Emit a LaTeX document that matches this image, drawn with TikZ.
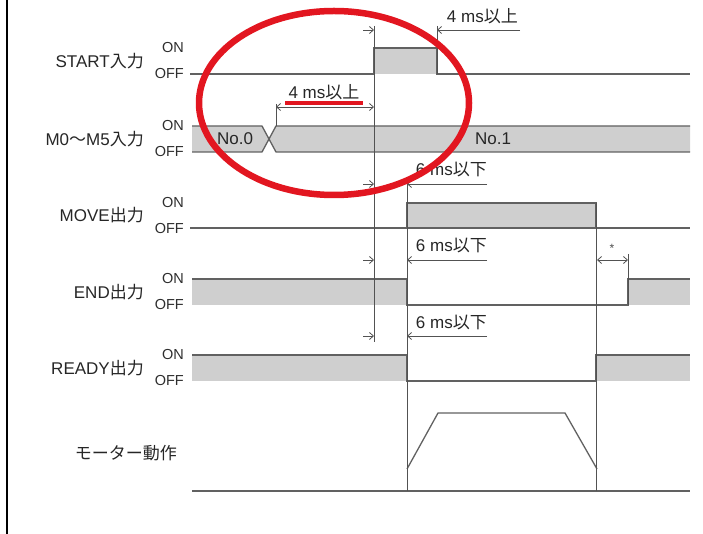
\documentclass[tikz,border=0pt]{standalone}
\usepackage{fontspec}
\setmainfont{Liberation Sans}
\newfontfamily\jp{Noto Sans CJK JP}
\usetikzlibrary{arrows.meta}
\definecolor{wavefill}{RGB}{207,207,207}
\definecolor{circred}{RGB}{226,22,32}
\tikzset{
  sig/.style={draw=black!62, line width=1.3pt},
  band/.style={fill=wavefill},
  guide/.style={draw=black!68, line width=0.9pt},
  dim/.style={draw=black!68, line width=0.8pt, -{Straight Barb[length=4pt,width=7pt]}},
  dimboth/.style={draw=black!68, line width=0.8pt, {Straight Barb[length=4pt,width=7pt]}-{Straight Barb[length=4pt,width=7pt]}},
  siglabel/.style={anchor=east, inner sep=0pt, text=black!85, font=\fontsize{17}{17}\selectfont},
  lvl/.style={anchor=east, inner sep=0pt, text=black!82, font=\fontsize{14.5}{14.5}\selectfont},
  note/.style={anchor=base east, inner sep=0pt, text=black!85, font=\fontsize{17}{17}\selectfont},
  redmark/.style={draw=circred, line width=6.5pt}
}

\begin{document}
\begin{tikzpicture}[x=1pt,y=-1pt]
  \useasboundingbox (0,0) rectangle (703,534);
  \draw[line width=2pt] (7,0) -- (7,534);
  % grey areas
  \fill[band] (374,48) rectangle (437,74);
  \fill[band] (192,126) -- (262,126) -- (269,139) -- (262,152) -- (192,152) -- cycle;
  \fill[band] (276,126) -- (690,126) -- (690,152) -- (276,152) -- (269,139) -- cycle;
  \fill[band] (407,203) rectangle (596,228);
  \fill[band] (192,279) rectangle (407,305);
  \fill[band] (628,279) rectangle (690,305);
  \fill[band] (192,355) rectangle (407,381);
  \fill[band] (596,355) rectangle (690,381);
  % signals
  \draw[sig] (190,74) -- (374,74) -- (374,48) -- (437,48) -- (437,74) -- (690,74);
  \draw[sig] (192,126) -- (262,126) -- (276,152) -- (690,152);
  \draw[sig] (192,152) -- (262,152) -- (276,126) -- (690,126);
  \draw[sig] (190,228) -- (690,228);
  \draw[sig] (407,228) -- (407,203) -- (596,203) -- (596,228);
  \draw[sig] (192,279) -- (407,279) -- (407,305) -- (628,305) -- (628,279) -- (690,279);
  \draw[sig] (192,355) -- (407,355) -- (407,381) -- (596,381) -- (596,355) -- (690,355);
  \draw[sig] (192,491) -- (690,491);
  \draw[sig] (407,469) -- (438,413) -- (565,413) -- (597,469);
  % guides
  \draw[guide] (374,26) -- (374,342);
  \draw[guide] (437,26) -- (437,74);
  \draw[guide] (407,178) -- (407,491);
  \draw[guide] (596,203) -- (596,491);
  \draw[guide] (628,254) -- (628,305);
  \draw[guide] (276,104) -- (276,126);
  % timings
  \draw[dim] (363,30) -- (374,30);
  \draw[dim] (520,30) -- (437,30);
  \node[note] (start-min) at (518,23) {4 ms{\jp 以上}};
  \draw[dimboth] (276,107) -- (374,107);
  \node[note, anchor=base] (sel-min) at (324,99) {4 ms{\jp 以上}};
  \foreach \y in {184,260,336}{
    \draw[dim] (363,\y) -- (374,\y);
    \draw[dim] (487,\y) -- (407,\y);
    \node[note] (max\y) at (487,\y-8) {6 ms{\jp 以下}};
  }
  \draw[dimboth] (597,260) -- (628,260);
  \node[text=black!70, font=\fontsize{12}{12}\selectfont] (ast) at (612,248) {*};
  % labels
  \foreach \y/\txt/\nm in {61/{START{\jp 入力}}/start, 139/{M0{\jp 〜}M5{\jp 入力}}/sel, 215.5/{MOVE{\jp 出力}}/move, 292/{END{\jp 出力}}/end, 368/{READY{\jp 出力}}/ready}{
    \node[siglabel] (\nm) at (144,\y) {\txt};
    \node[lvl] (\nm-on) at (184,\y-13) {ON};
    \node[lvl] (\nm-off) at (184,\y+13) {OFF};
  }
  \node[siglabel] (motor) at (177,453) {\jp モーター動作};
  \node[text=black!85, font=\fontsize{17}{17}\selectfont] (no0) at (235,139) {No.0};
  \node[text=black!85, font=\fontsize{17}{17}\selectfont] (no1) at (493,139) {No.1};
  % red mark
  \draw[redmark, line width=4pt] (285,103) -- (363,103);
  \draw[redmark] (334,103) ellipse [x radius=135, y radius=92];
\end{tikzpicture}
\end{document}
